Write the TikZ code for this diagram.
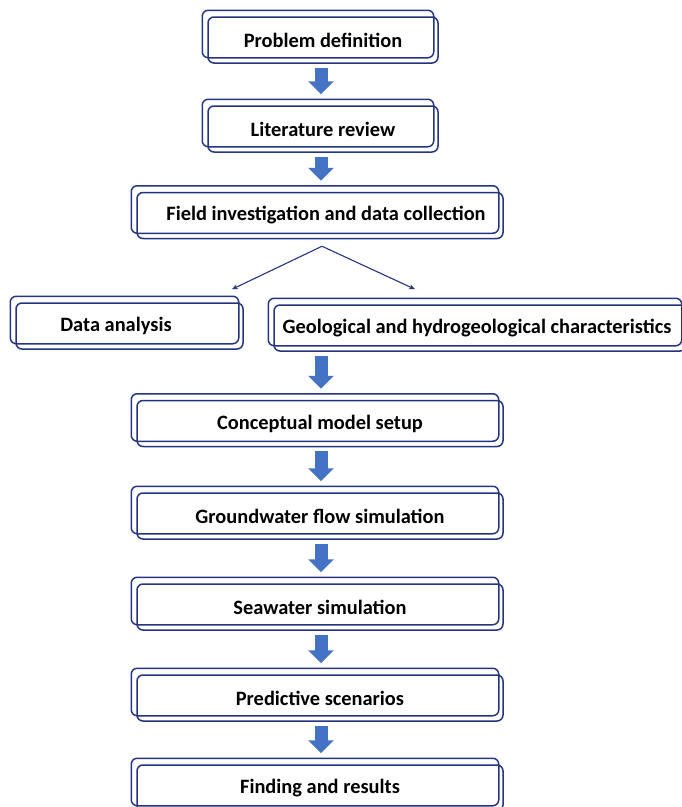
\documentclass[tikz,border=0pt]{standalone}
\usepackage{fontspec}
\setmainfont{Carlito}
\usetikzlibrary{arrows.meta}

\definecolor{framenavy}{RGB}{36,52,128}
\definecolor{arrowblue}{RGB}{68,114,196}

\begin{document}
\begin{tikzpicture}[x=1pt, y=-1pt,
    stage/.style={draw=framenavy, line width=1.5pt, rounded corners=6pt,
        minimum height=46pt, inner sep=0pt, font=\bfseries\fontsize{20.4pt}{24pt}\selectfont},
    frame/.style={draw=framenavy, line width=1.5pt, rounded corners=6pt},
    flow/.style={arrowblue, line width=13pt, shorten <=4pt, shorten >=11pt,
        -{Triangle[length=13pt,width=25pt]}},
    fork/.style={framenavy, line width=1.1pt, -{Stealth[length=6pt,width=5pt]}}]
    \clip (0,0) rectangle (682,807);

    \node[stage, minimum width=230pt] (def)  at (323,40)    {Problem definition};
    \node[stage, minimum width=230pt] (lit)  at (323,129)   {Literature review};
    \node[stage, minimum width=366pt] (fld)  at (320,215.5) {\hspace*{12pt}Field investigation and data collection};
    \node[stage, minimum width=227pt] (dat)  at (129.5,326) {\hspace*{-27pt}Data analysis};
    \node[stage, minimum width=412pt] (geo)  at (480,328)   {\hspace*{-6pt}Geological and hydrogeological characteristics};
    \node[stage, minimum width=366pt] (con)  at (320,423.5) {Conceptual model setup};
    \node[stage, minimum width=366pt] (gwf)  at (320,516)   {Groundwater flow simulation};
    \node[stage, minimum width=366pt] (sea)  at (320,607)   {Seawater simulation};
    \node[stage, minimum width=366pt] (pred) at (320,698)   {Predictive scenarios};
    \node[stage, minimum width=366pt] (res)  at (320,788)   {Finding and results};

    % second outline, shifted up and left
    \foreach \n in {def,lit,fld,dat,geo,con,gwf,sea,pred,res} {
        \draw[frame] ([shift={(-5pt,6pt)}]\n.north west) rectangle ([shift={(-5pt,6pt)}]\n.south east);
    }

    % block arrows down the middle
    \coordinate (axis) at (321,0);
    \draw[flow] (def.south -| axis) -- (lit.north -| axis);
    \draw[flow] (lit.south -| axis) -- (fld.north -| axis);
    \draw[flow] (geo.south -| axis) -- (con.north -| axis);
    \draw[flow] (con.south -| axis) -- (gwf.north -| axis);
    \draw[flow] (gwf.south -| axis) -- (sea.north -| axis);
    \draw[flow] (sea.south -| axis) -- (pred.north -| axis);
    \draw[flow] (pred.south -| axis) -- (res.north -| axis);

    % split after the field work
    \coordinate (split) at ([shift={(2pt,-7pt)}]fld.south);
    \coordinate (todat) at ([shift={(102.5pt,13pt)}]dat.north);
    \coordinate (togeo) at ([shift={(-65pt,15pt)}]geo.north);
    \draw[fork] (split) -- (todat);
    \draw[fork] (split) -- (togeo);
\end{tikzpicture}
\end{document}
